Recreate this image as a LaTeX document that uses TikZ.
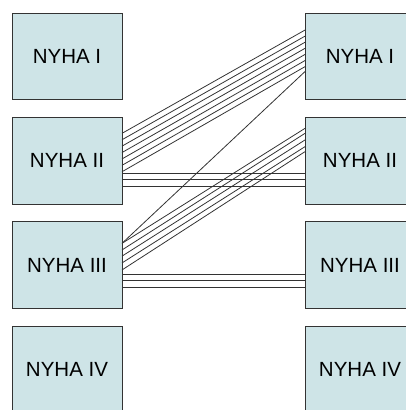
\documentclass[tikz,border=0pt]{standalone}
\usepackage{fontspec}
\setmainfont{Liberation Sans}
\usetikzlibrary{positioning}
\definecolor{nyhafill}{RGB}{206,228,231}
\definecolor{nyhaline}{RGB}{51,51,51}

\begin{document}
\begin{tikzpicture}[x=1pt,y=-1pt,node distance=17.8pt,line width=0.8pt,draw=nyhaline]
		\tikzstyle{nyha}=[draw=nyhaline,fill=nyhafill,line width=1pt,minimum width=110pt,minimum height=86.5pt,inner sep=0pt,outer sep=0pt,font=\fontsize{20.5}{24}\selectfont]
		\useasboundingbox (0,0) rectangle (406,410);
		
		\node[nyha] (l1) at (67,56.55) {NYHA I};
		\node[nyha] (l2) [below=of l1] {NYHA II};
		\node[nyha] (l3) [below=of l2] {NYHA III};
		\node[nyha] (l4) [below=of l3] {NYHA IV};
		\node[nyha] (r1) [right=183pt of l1] {NYHA I};
		\node[nyha] (r2) [right=183pt of l2] {NYHA II};
		\node[nyha] (r3) [right=183pt of l3] {NYHA III};
		\node[nyha] (r4) [right=183pt of l4] {NYHA IV};
		
		\path[draw=nyhaline,line width=0.8pt]
		([yshift=27.5pt]l2.east) edge ([yshift=26.5pt]r1.west)
		([yshift=21.1pt]l2.east) edge ([yshift=20.4pt]r1.west)
		([yshift=14.7pt]l2.east) edge ([yshift=14.3pt]r1.west)
		([yshift=8.3pt]l2.east) edge ([yshift=8.2pt]r1.west)
		([yshift=1.9pt]l2.east) edge ([yshift=2.1pt]r1.west)
		([yshift=-4.5pt]l2.east) edge ([yshift=-4pt]r1.west)
		([yshift=-10.9pt]l2.east) edge ([yshift=-10.1pt]r1.west)
		([yshift=-12.5pt]l2.east) edge ([yshift=-12.5pt]r2.west)
		([yshift=-19pt]l2.east) edge ([yshift=-19pt]r2.west)
		([yshift=-25.5pt]l2.east) edge ([yshift=-25.5pt]r2.west)
		([yshift=21.8pt]l3.east) edge ([yshift=-15pt]r1.west)
		([yshift=21.8pt]l3.east) edge ([yshift=32.5pt]r2.west)
		([yshift=15.2pt]l3.east) edge ([yshift=27.5pt]r2.west)
		([yshift=9pt]l3.east) edge ([yshift=20.9pt]r2.west)
		([yshift=2.2pt]l3.east) edge ([yshift=14.2pt]r2.west)
		([yshift=-4.8pt]l3.east) edge ([yshift=9.2pt]r2.west)
		([yshift=-8.9pt]l3.east) edge ([yshift=-8.9pt]r3.west)
		([yshift=-15.4pt]l3.east) edge ([yshift=-15.4pt]r3.west)
		([yshift=-21.9pt]l3.east) edge ([yshift=-21.9pt]r3.west);
	\end{tikzpicture}
\end{document}
